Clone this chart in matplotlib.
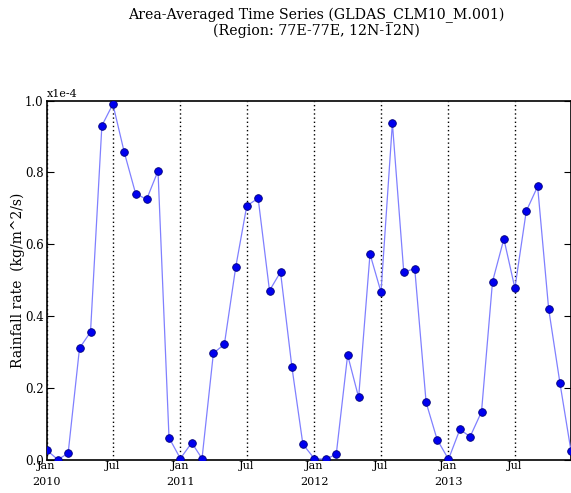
import numpy as np
import pandas as pd
import matplotlib
matplotlib.use('Agg')
import matplotlib.pyplot as plt
import matplotlib.dates as mdates

# monthly area-averaged rainfall rate, in units of 1e-4 kg/m^2/s
months = pd.date_range('2010-01-01', periods=48, freq='MS')
rain_2010 = [0.028, 0.001, 0.019, 0.311, 0.356, 0.930, 0.990, 0.856, 0.741, 0.725, 0.804, 0.062]
rain_2011 = [0.004, 0.048, 0.004, 0.297, 0.322, 0.537, 0.707, 0.728, 0.471, 0.523, 0.259, 0.044]
rain_2012 = [0.004, 0.002, 0.016, 0.292, 0.174, 0.573, 0.467, 0.937, 0.523, 0.532, 0.160, 0.057]
rain_2013 = [0.002, 0.085, 0.065, 0.134, 0.496, 0.615, 0.478, 0.692, 0.761, 0.421, 0.213, 0.025]
rain = rain_2010 + rain_2011 + rain_2012 + rain_2013

tick_dates = pd.date_range('2010-01-01', '2013-07-01', freq='6MS')
tick_labels = ['Jan\n2010', 'Jul', 'Jan\n2011', 'Jul', 'Jan\n2012', 'Jul', 'Jan\n2013', 'Jul']
y_ticks = [0.0, 0.2, 0.4, 0.6, 0.8, 1.0]

plt.rcParams['font.family'] = 'DejaVu Serif'

fig = plt.figure(figsize=(5.71, 4.93), dpi=100)
ax = fig.add_axes([46.5 / 571, 33 / 493, 1 - 46.5 / 571, 359.5 / 493])

ax.plot(months, rain, '-', color='#8080ff', lw=0.9, zorder=3)
ax.plot(months, rain, 'o', color='#0000ee', mec='#00007a', mew=0.6, ms=5.5, zorder=4)

ax.set_xlim(months[0], months[-1])
ax.set_ylim(0, 1.0)
ax.set_xticks(tick_dates)
ax.set_xticklabels(tick_labels, fontsize=8, linespacing=1.7)
ax.set_yticks(y_ticks)
ax.set_yticklabels(['%.1f' % v for v in y_ticks], fontsize=8.5)
ax.tick_params(direction='in', length=5, width=0.8, top=False, right=True, pad=2)
ax.tick_params(axis='x', length=0, pad=1)
ax.xaxis.grid(True, color='black', linestyle=(0, (1, 2)), lw=1)
ax.yaxis.grid(False)
for s in ax.spines.values():
    s.set_linewidth(1.2)

ax.set_ylabel('Rainfall rate  (kg/m^2/s)', fontsize=10, labelpad=0)
ax.text(0.0, 1.003, 'x1e-4', transform=ax.transAxes, fontsize=8, ha='left', va='bottom')

fig.text(316 / 571, 1 - 15 / 493, 'Area-Averaged Time Series (GLDAS_CLM10_M.001)',
         ha='center', va='center', fontsize=10.2)
fig.text(316 / 571, 1 - 31 / 493, '(Region: 77E-77E, 12N-12N)',
         ha='center', va='center', fontsize=10.2)

plt.savefig('out.png', dpi=100)
plt.close()
